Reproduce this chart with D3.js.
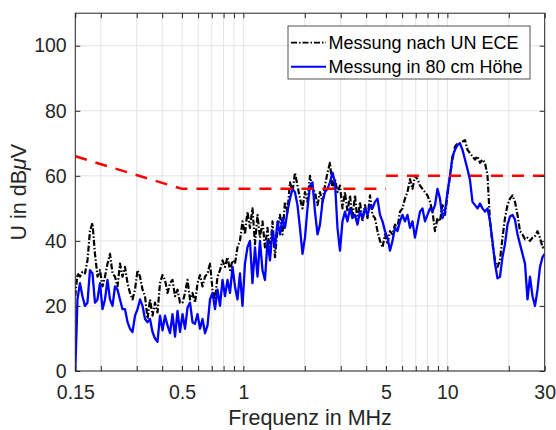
<!DOCTYPE html>
<html>
<head>
<meta charset="utf-8">
<script src="https://cdn.jsdelivr.net/npm/d3@7"></script>
<style>
  body { margin: 0; background: #fff; }
  svg { font-family: "Liberation Sans", Arial, Helvetica, sans-serif; }
  .axis text { fill: #262626; }
  .axis line, .axis path { stroke: #262626; }
</style>
</head>
<body>
<div id="chart"></div>
<script>
// frequency samples in MHz (shared by both measurements)
const freqMHz = [
  0.150, 0.1537, 0.1581, 0.1626, 0.1673, 0.1721, 0.1770, 0.1821, 0.1873, 0.1927,
  0.1982, 0.2039, 0.2097, 0.2157, 0.2219, 0.2283, 0.2348, 0.2416, 0.2484, 0.2556,
  0.2629, 0.2705, 0.2781, 0.2861, 0.2943, 0.3028, 0.3114, 0.3204, 0.3295, 0.3390,
  0.3486, 0.3586, 0.3688, 0.3794, 0.3903, 0.4015, 0.4129, 0.4248, 0.4369, 0.4494,
  0.4623, 0.4756, 0.4891, 0.5032, 0.5175, 0.5324, 0.5476, 0.5633, 0.5793, 0.5960,
  0.6130, 0.6306, 0.6486, 0.6672, 0.6862, 0.7059, 0.7261, 0.7469, 0.7682, 0.7903,
  0.8128, 0.8361, 0.8600, 0.8847, 0.9095, 0.9356, 0.9623, 0.9899, 1.018, 1.047,
  1.077, 1.108, 1.140, 1.173, 1.206, 1.241, 1.276, 1.313, 1.350, 1.389,
  1.429, 1.470, 1.511, 1.555, 1.599, 1.645, 1.692, 1.741, 1.790, 1.842,
  1.894, 1.949, 2.004, 2.062, 2.121, 2.182, 2.244, 2.309, 2.374, 2.443,
  2.512, 2.585, 2.658, 2.735, 2.812, 2.893, 2.975, 3.061, 3.148, 3.238,
  3.331, 3.427, 3.524, 3.626, 3.729, 3.836, 3.946, 4.060, 4.175, 4.295,
  4.417, 4.544, 4.674, 4.808, 4.945, 5.087, 5.232, 5.382, 5.536, 5.695,
  5.857, 6.025, 6.197, 6.375, 6.557, 6.745, 6.937, 7.136, 7.340, 7.550,
  7.766, 7.989, 8.217, 8.452, 8.694, 8.943, 9.199, 9.462, 9.732, 10.01,
  10.30, 10.59, 10.90, 11.21, 11.53, 11.86, 12.20, 12.55, 12.91, 13.28,
  13.66, 14.05, 14.45, 14.87, 15.29, 15.73, 16.18, 16.64, 17.12, 17.61,
  18.11, 18.63, 19.16, 19.71, 20.28, 20.86, 21.45, 22.07, 22.70, 23.35,
  24.02, 24.71, 25.41, 26.14, 26.89, 27.66, 28.45, 29.27, 30.00
];

// Messung nach UN ECE (dBuV)
const eceDb = [
  23, 30, 29, 30.5, 30, 34, 43, 45.5, 36, 29,
  31, 26, 29, 33, 36, 30, 29, 26, 33, 29,
  32, 27, 24, 22, 25, 31, 29, 25, 23, 16,
  22, 17, 21, 18, 27, 29.5, 28, 24, 27, 28,
  23, 25, 21, 21, 24, 28, 22, 24, 21, 27,
  29.5, 26, 29, 30, 33, 25, 22, 29, 31, 34,
  32, 35, 31, 34, 33, 38, 40, 46, 42, 49,
  44, 50, 39, 48, 41, 46, 38, 44, 36, 46,
  35, 44, 48, 42, 52, 49, 58, 55, 61, 57,
  53, 50, 55, 52, 60, 56, 55, 51, 55, 52,
  57, 61, 64, 56, 59, 55, 57, 50, 55, 49,
  54, 47, 54, 46, 52, 46, 51, 47, 54, 48,
  47, 43, 40, 38, 42, 39, 43, 42, 45, 44,
  49, 50, 53, 55, 59, 56, 60, 59, 57, 56,
  55, 54, 52, 49, 43, 47, 46, 51, 48, 54,
  60, 65, 69, 70, 70, 70.5, 71, 68, 67, 66,
  65, 66, 64, 65, 64, 60, 46, 39, 34, 32,
  34, 41, 47, 51, 53, 54, 52, 48, 43, 42,
  40.5, 41, 40, 41, 41.5, 43, 41, 38, 38
];

// Messung in 80 cm Hoehe (dBuV)
const hoeheDb = [
  0, 22, 27, 23, 20, 21, 31, 30, 21, 22,
  27, 19, 22, 28, 22, 20, 26, 25, 22, 19,
  19, 15, 13, 12, 17, 19, 22, 20, 16, 15,
  16, 12, 10, 9, 17, 12.5, 17, 14, 11.6, 17.5,
  10.6, 18.5, 12, 17.5, 13, 19.5, 21, 15, 14.5, 17.5,
  13, 16, 11.6, 14, 22, 24, 19, 25, 20, 28,
  23, 28, 24, 32, 26, 22, 30, 20, 33, 38,
  40, 27, 38, 29, 40, 31, 28, 40, 34, 43,
  38, 46, 42, 47, 44, 49, 53, 56, 55, 51,
  44, 36, 41, 50, 57, 58, 49, 42, 45, 52,
  55, 56, 58, 61, 58, 44, 37, 46, 49, 46,
  50, 47, 48, 45, 49, 47, 50, 48, 51, 50,
  52, 53, 48, 46, 43, 41, 37, 40, 44, 43,
  46, 48, 46, 48, 44, 46, 41, 45, 49, 50,
  46, 48, 50, 49, 51, 56, 53, 47, 49, 55,
  60, 66, 68, 69.5, 70, 68, 65, 62, 58.7, 52,
  51, 50, 51.5, 50, 49, 50, 46, 40, 33, 28.5,
  29, 35, 39, 45, 47.5, 48, 46.5, 42, 39, 36,
  33, 22, 29, 23, 20, 25, 32, 35, 36
];

// limit line (null breaks the line at 5 MHz)
const limitFreq = [0.15, 0.5, 5, 5, 5, 30];
const limitDb = [66, 56, 56, null, 60, 60];

// axis ticks
const xTicks = [0.15, 0.2, 0.3, 0.4, 0.5, 0.6, 0.7, 0.8, 0.9, 1, 2, 3, 4, 5, 6, 7, 8, 9, 10, 20, 30];
const xTickLabels = { 0.15: "0.15", 0.5: "0.5", 1: "1", 5: "5", 10: "10", 30: "30" };
const yTicks = [0, 20, 40, 60, 80, 100];

const legendLabels = ["Messung nach UN ECE", "Messung in 80 cm Höhe"];

const WIDTH_TOTAL = 556, HEIGHT_TOTAL = 430;
const MARGIN = { LEFT: 75.3, RIGHT: 11.3, TOP: 13.2, BOTTOM: 59 };
const WIDTH = WIDTH_TOTAL - MARGIN.LEFT - MARGIN.RIGHT;
const HEIGHT = HEIGHT_TOTAL - MARGIN.TOP - MARGIN.BOTTOM;

const svg = d3.select("#chart").append("svg")
  .attr("width", WIDTH_TOTAL)
  .attr("height", HEIGHT_TOTAL);

const g = svg.append("g")
  .attr("transform", `translate(${MARGIN.LEFT}, ${MARGIN.TOP})`);

// scales
const x = d3.scaleLog().domain([0.15, 30]).range([0, WIDTH]);
const y = d3.scaleLinear().domain([0, 110]).range([HEIGHT, 0]);

// grid
g.append("g").selectAll("line").data(xTicks).join("line")
  .attr("x1", d => x(d)).attr("x2", d => x(d))
  .attr("y1", 0).attr("y2", HEIGHT)
  .attr("stroke", "#e3e3e3").attr("stroke-width", 1);
g.append("g").selectAll("line").data(yTicks).join("line")
  .attr("x1", 0).attr("x2", WIDTH)
  .attr("y1", d => y(d)).attr("y2", d => y(d))
  .attr("stroke", "#e3e3e3").attr("stroke-width", 1);

// clip
svg.append("defs").append("clipPath").attr("id", "clip")
  .append("rect").attr("x", 0).attr("y", 0).attr("width", WIDTH).attr("height", HEIGHT);

const plot = g.append("g").attr("clip-path", "url(#clip)");

const line = d3.line()
  .x(d => x(d[0]))
  .y(d => y(d[1]));

const eceData = freqMHz.map((f, i) => [f, eceDb[i]]);
const hoeheData = freqMHz.map((f, i) => [f, hoeheDb[i]]);
const limitData = limitFreq.map((f, i) => [f, limitDb[i]]);

plot.append("path")
  .attr("d", line(eceData))
  .attr("fill", "none")
  .attr("stroke", "#000")
  .attr("stroke-width", 2.2)
  .attr("stroke-dasharray", "6,2,1.5,2")
  .attr("stroke-linejoin", "round");

plot.append("path")
  .attr("d", line(hoeheData))
  .attr("fill", "none")
  .attr("stroke", "#0000ff")
  .attr("stroke-width", 2.3)
  .attr("stroke-linejoin", "round");

plot.append("path")
  .attr("d", d3.line().defined(d => d[1] !== null).x(d => x(d[0])).y(d => y(d[1]))(limitData))
  .attr("fill", "none")
  .attr("stroke", "#ff0000")
  .attr("stroke-width", 2.5)
  .attr("stroke-dasharray", "12,9");

// axes
const fmtX = d => xTickLabels[d] || "";
g.append("g").attr("class", "axis")
  .attr("transform", `translate(0, ${HEIGHT})`)
  .call(d3.axisBottom(x).tickValues(xTicks).tickFormat(fmtX).tickSizeInner(-5).tickSizeOuter(0).tickPadding(14))
  .call(a => a.select(".domain").remove())
  .selectAll("text").attr("font-size", "19.5px").attr("font-family", null);
g.append("g").attr("class", "axis")
  .call(d3.axisTop(x).tickValues(xTicks).tickFormat("").tickSizeInner(-5).tickSizeOuter(0))
  .call(a => a.select(".domain").remove());
g.append("g").attr("class", "axis")
  .call(d3.axisLeft(y).tickValues(yTicks).tickSizeInner(-5).tickSizeOuter(0).tickPadding(8.6))
  .call(a => a.select(".domain").remove())
  .selectAll("text").attr("font-size", "19.5px").attr("font-family", null);
g.append("g").attr("class", "axis")
  .attr("transform", `translate(${WIDTH}, 0)`)
  .call(d3.axisRight(y).tickValues(yTicks).tickFormat("").tickSizeInner(-5).tickSizeOuter(0))
  .call(a => a.select(".domain").remove());

// box
g.append("rect")
  .attr("width", WIDTH).attr("height", HEIGHT)
  .attr("fill", "none").attr("stroke", "#262626").attr("stroke-width", 1);

// axis labels
svg.append("text")
  .attr("x", MARGIN.LEFT + WIDTH / 2)
  .attr("y", 424.5)
  .attr("text-anchor", "middle")
  .attr("font-size", "21.5px")
  .attr("fill", "#262626")
  .text("Frequenz in MHz");

const yLabel = svg.append("text")
  .attr("transform", `translate(26, ${MARGIN.TOP + HEIGHT / 2}) rotate(-90)`)
  .attr("text-anchor", "middle")
  .attr("font-size", "21.5px")
  .attr("fill", "#262626");
yLabel.append("tspan").text("U in dB");
yLabel.append("tspan").attr("font-style", "italic").text("μ");
yLabel.append("tspan").text("V");

// legend
const legend = svg.append("g").attr("transform", "translate(288, 26)");
legend.append("rect")
  .attr("width", 242).attr("height", 53)
  .attr("fill", "#fff").attr("stroke", "#262626").attr("stroke-width", 0.8);
const legendStyles = [
  { color: "#000", dash: "6,2,1.5,2", width: 1.8 },
  { color: "#0000ff", dash: null, width: 2 }
];
legendLabels.forEach((label, i) => {
  const yy = 16.7 + i * 24;
  legend.append("line")
    .attr("x1", 3).attr("x2", 38).attr("y1", yy).attr("y2", yy)
    .attr("stroke", legendStyles[i].color)
    .attr("stroke-width", legendStyles[i].width)
    .attr("stroke-dasharray", legendStyles[i].dash);
  legend.append("text")
    .attr("x", 40.5).attr("y", yy)
    .attr("dy", "0.35em")
    .attr("font-size", "18px")
    .attr("fill", "#000")
    .text(label);
});
</script>
</body>
</html>
